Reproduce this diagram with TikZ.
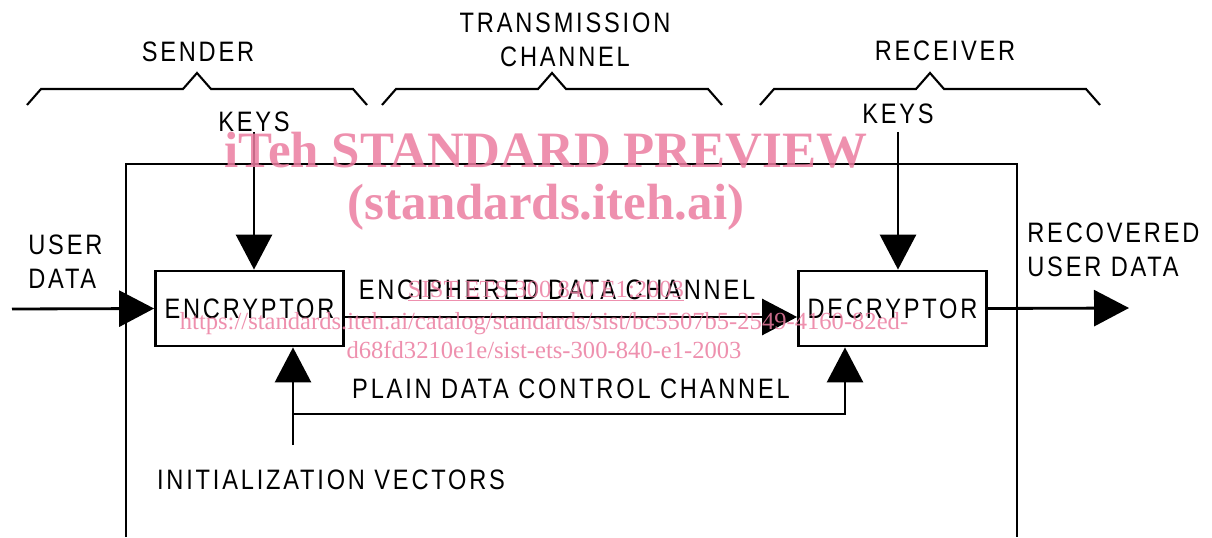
\documentclass[tikz,border=0pt]{standalone}
\usepackage{fontspec}
\setmainfont{Liberation Sans}[FakeStretch=0.84,LetterSpace=10]
\newfontfamily\markfont{Liberation Serif}
\usetikzlibrary{arrows.meta}
\definecolor{Mark}{RGB}{235,125,160}

\begin{document}
\begin{tikzpicture}[x=0.02cm,y=-0.02cm,
    lbl/.style={inner sep=0pt,font=\fontsize{16}{19.3}\selectfont},
    unit/.style={draw,line width=1.6pt,minimum width=3.76cm,minimum height=1.5cm,
      inner sep=0pt,font=\fontsize{16}{19.3}\selectfont},
    wire/.style={line width=1.6pt},
    arr/.style={wire,-{Triangle[length=7mm,width=7.2mm]}},
    brace/.style={line width=1.2pt,line join=miter},
    wmark/.style={inner sep=0pt,text=Mark,text opacity=0.85}
  ]
    \useasboundingbox (0,0) rectangle (1212,537);

    % sender / channel / receiver brackets
    \foreach \a/\b in {27/367,382/722,760/1100}
      \draw[brace] (\a,105) -- ++(14,-16) -- ({(\a+\b)/2-14},89) -- ({(\a+\b)/2},73)
        -- ({(\a+\b)/2+14},89) -- (\b-14,89) -- (\b,105);
    \node[lbl] (sender) at (198,52) {SENDER};
    \node[lbl,align=center] (channel) at (565,40) {TRANSMISSION\\CHANNEL};
    \node[lbl] (receiver) at (945,51) {RECEIVER};

    % open frame of the transmission channel
    \coordinate (fbl) at (126,537);
    \coordinate (ftl) at (126,164);
    \coordinate (ftr) at (1017,164);
    \coordinate (fbr) at (1017,537);
    \draw[wire] (fbl) -- (ftl) -- (ftr) -- (fbr);

    \node[unit] (enc) at (249.5,308.5) {ENCRYPTOR};
    \node[unit] (dec) at (892.5,308.5) {DECRYPTOR};

    \node[lbl] (keysS) at (254,122) {KEYS};
    \node[lbl] (keysR) at (898,114) {KEYS};
    \draw[arr] (keysS.south) -- (keysS.south |- enc.north);
    \draw[arr] ([yshift=-0.15cm]keysR.south) -- (keysR.south |- dec.north);

    % user data in and out
    \coordinate (udin) at (12,309);
    \coordinate (udout) at (1129,308);
    \node[lbl,anchor=west,align=left] (udata) at (28,262) {USER\\DATA};
    \node[lbl,anchor=west,align=left] (rdata) at (1027,250) {RECOVERED\\USER DATA};
    \draw[arr] (udin) -- (enc.west);
    \draw[arr] (dec.east) -- (udout);

    \node[lbl] (enctxt) at (557,290) {ENCIPHERED DATA CHANNEL};
    \draw[arr] ([yshift=-0.17cm]enc.east) -- ([yshift=-0.17cm]dec.west);

    % initialization vectors and plain control channel
    \coordinate (ivend) at (293,445);
    \coordinate (ctl) at (293,414);
    \coordinate (ctr) at (845,414);
    \node[lbl] (plain) at (571,389) {PLAIN DATA CONTROL CHANNEL};
    \node[lbl] (ivlbl) at (331,480) {INITIALIZATION VECTORS};
    \draw[arr] (ivend) -- (ivend |- enc.south);
    \draw[arr] (ctl) -- (ctr) -- (ctr |- dec.south);

    % preview stamp
    \node[wmark,font=\markfont\bfseries\fontsize{29}{34}\selectfont] (wmtitle) at (546,150) {iTeh STANDARD PREVIEW};
    \node[wmark,font=\markfont\bfseries\fontsize{29}{34}\selectfont] (wmsite) at (546,207) {(standards.iteh.ai)};
    \node[wmark,font=\markfont\fontsize{14}{17}\selectfont] (wmref) at (546,291) {\underline{SIST ETS 300 840 E1:2003}};
    \node[wmark,font=\markfont\fontsize{14}{16.5}\selectfont,align=center] (wmurl) at (544,336)
      {https://standards.iteh.ai/catalog/standards/sist/bc5507b5-2549-4160-82ed-\\d68fd3210e1e/sist-ets-300-840-e1-2003};
  \end{tikzpicture}
\end{document}
